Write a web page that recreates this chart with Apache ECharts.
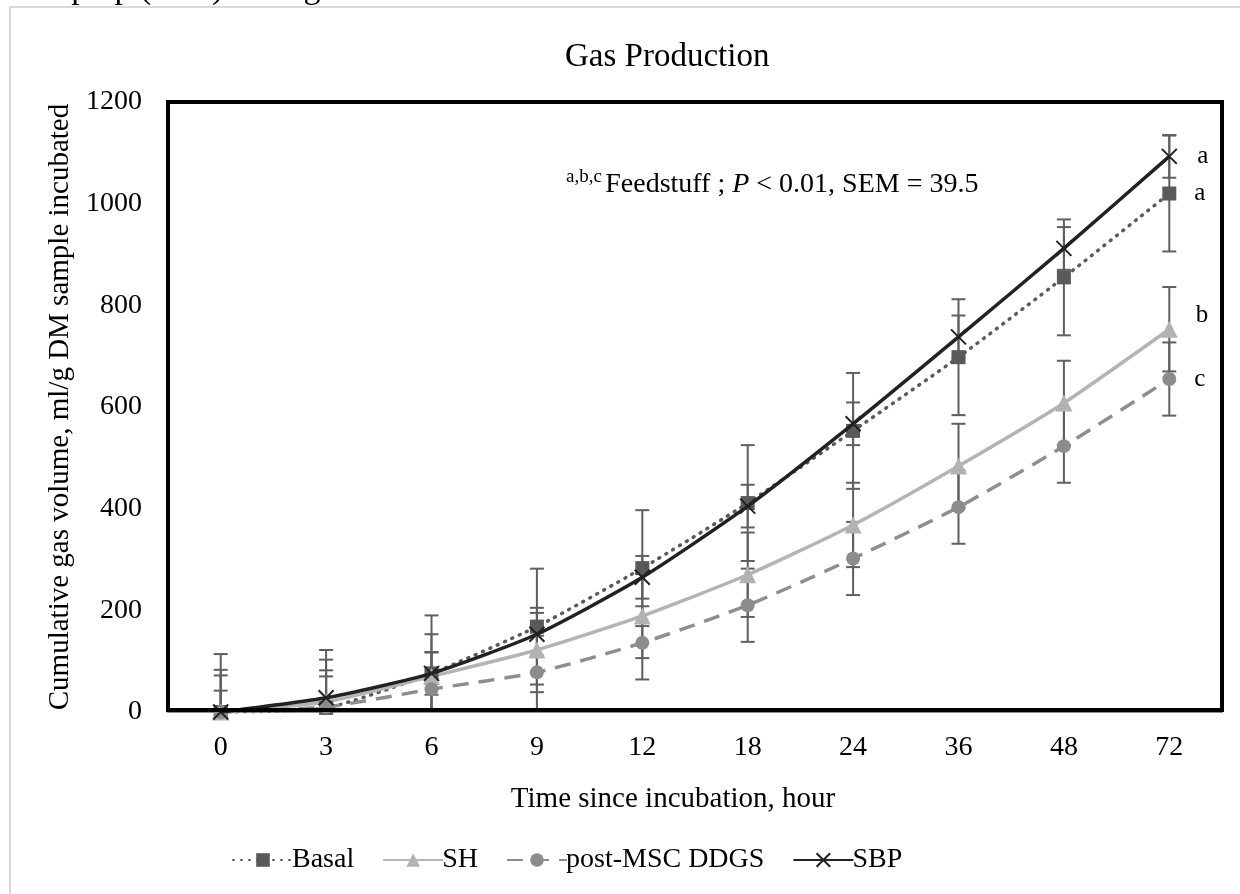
<!DOCTYPE html>
<html>
<head>
<meta charset="utf-8">
<title>Gas Production</title>
<script src="https://cdn.jsdelivr.net/npm/echarts@6/dist/echarts.min.js"></script>
<style>
  html, body { margin: 0; padding: 0; background: #fff; }
  #main { width: 1240px; height: 894px; }
</style>
</head>
<body>
<div id="main"></div>
<script>
// hours after incubation
var categories = ['0', '3', '6', '9', '12', '18', '24', '36', '48', '72'];

// cumulative gas, ml/g DM
var basal = [0, 8, 76, 168, 283, 411, 553, 698, 855, 1020];
var sh = [0, 20, 70, 122, 189, 270, 368, 484, 608, 753];
var ddgs = [0, 10, 45, 78, 136, 210, 302, 403, 523, 655];
var sbp = [0, 28, 76, 153, 265, 405, 567, 738, 912, 1093];

// error bar half length
var basalErr = [114, 114, 114, 114, 114, 114, 114, 114, 114, 114];
var shErr = [83, 83, 83, 83, 83, 83, 83, 83, 83, 83];
var ddgsErr = [72, 72, 72, 72, 72, 72, 72, 72, 72, 72];
var sbpErr = [42, 42, 42, 42, 42, 42, 42, 42, 42, 42];

// letters at the 72 h point
var letters = { Basal: 'a', SH: 'b', 'post-MSC DDGS': 'c', SBP: 'a' };

var yTicks = [0, 200, 400, 600, 800, 1000, 1200];

var FONT = '"Liberation Serif", "Times New Roman", serif';

function withLetter(name, values, offset) {
    return values.map(function (v, i) {
        if (i !== values.length - 1) return v;
        return {
            value: v,
            label: {
                show: true,
                position: 'right',
                distance: 18,
                offset: offset || [0, 0],
                formatter: letters[name],
                fontFamily: FONT,
                fontSize: 25,
                color: '#000'
            }
        };
    });
}

function errorBars(name, values, errs) {
    return {
        type: 'custom',
        name: name + ' err',
        silent: true,
        z: 1,
        encode: { x: 0, y: 1 },
        renderItem: function (params, api) {
            var i = api.value(0);
            var v = api.value(1);
            var e = api.value(2);
            var top = api.coord([i, v + e]);
            var low = v - e;
            var bot = api.coord([i, Math.max(low, 0)]);
            var st = { stroke: '#5f5f5f', lineWidth: 2 };
            var kids = [
                { type: 'line', shape: { x1: top[0], y1: top[1], x2: bot[0], y2: bot[1] }, style: st },
                { type: 'line', shape: { x1: top[0] - 7, y1: top[1], x2: top[0] + 7, y2: top[1] }, style: st }
            ];
            if (low >= 0) {
                kids.push({ type: 'line', shape: { x1: bot[0] - 7, y1: bot[1], x2: bot[0] + 7, y2: bot[1] }, style: st });
            }
            return { type: 'group', children: kids };
        },
        data: values.map(function (v, i) { return [i, v, errs[i]]; })
    };
}

var myChart = echarts.init(document.getElementById('main'));

var option = {
    backgroundColor: '#fff',
    animation: false,
    textStyle: { fontFamily: FONT },
    title: {
        text: 'Gas Production',
        left: 560,
        top: 36,
        textStyle: { fontFamily: FONT, fontSize: 33, fontWeight: 'normal', color: '#000' }
    },
    legend: {
        data: ['Basal', 'SH', 'post-MSC DDGS', 'SBP'],
        left: 227,
        top: 841,
        itemWidth: 60,
        itemHeight: 17,
        itemGap: 28,
        textStyle: { fontFamily: FONT, fontSize: 28, color: '#000', padding: [0, 0, 0, -6] }
    },
    grid: { left: 168, right: 18, top: 102, bottom: 182, containLabel: false },
    xAxis: {
        type: 'category',
        data: categories,
        boundaryGap: true,
        name: 'Time since incubation, hour',
        nameLocation: 'middle',
        nameGap: 73,
        nameTextStyle: { fontFamily: FONT, fontSize: 29, color: '#000', padding: [0, 44, 0, 0] },
        axisLine: { show: true, lineStyle: { color: '#8a8a8a', width: 2 } },
        axisTick: { show: false },
        axisLabel: { fontFamily: FONT, fontSize: 28, color: '#000', margin: 22 },
        splitLine: { show: false }
    },
    yAxis: {
        type: 'value',
        min: yTicks[0],
        max: yTicks[yTicks.length - 1],
        interval: 200,
        name: 'Cumulative gas volume, ml/g DM sample incubated',
        nameLocation: 'middle',
        nameGap: 90,
        nameTextStyle: { fontFamily: FONT, fontSize: 29, color: '#000' },
        axisLine: { show: false },
        axisTick: { show: false },
        axisLabel: {
            fontFamily: FONT, fontSize: 28, color: '#000', margin: 26,
            formatter: function (v) { return String(v); }
        },
        splitLine: { show: false }
    },
    graphic: [
        {
            type: 'rect',
            silent: true,
            z: -1,
            shape: { x: 10, y: 7, width: 1260, height: 920 },
            style: { fill: 'none', stroke: '#d9d9d9', lineWidth: 2 }
        },
        {
            type: 'text',
            silent: true,
            x: 6,
            y: 6,
            style: {
                text: 'beet pulp (SBP) during a 72-h in vitro fermentation.',
                fontFamily: FONT,
                fontSize: 34,
                fill: '#000',
                verticalAlign: 'bottom'
            }
        },
        {
            type: 'rect',
            silent: true,
            z: 50,
            shape: { x: 168, y: 102, width: 1054, height: 608 },
            style: { fill: 'none', stroke: '#000', lineWidth: 4 }
        },
        {
            type: 'text',
            silent: true,
            z: 60,
            x: 566,
            y: 168,
            style: {
                text: '{sup|a,b,c} {n|Feedstuff ; }{i|P}{n| < 0.01, SEM = 39.5}',
                rich: {
                    sup: { fontFamily: FONT, fontSize: 19, fill: '#000', verticalAlign: 'top', padding: [0, 0, 14, 0] },
                    n: { fontFamily: FONT, fontSize: 28, fill: '#000' },
                    i: { fontFamily: FONT, fontSize: 28, fontStyle: 'italic', fill: '#000' }
                }
            }
        }
    ],
    series: [
        errorBars('Basal', basal, basalErr),
        errorBars('SH', sh, shErr),
        errorBars('post-MSC DDGS', ddgs, ddgsErr),
        errorBars('SBP', sbp, sbpErr),
        {
            name: 'Basal',
            type: 'line',
            z: 3,
            smooth: 0.2,
            symbol: 'rect',
            symbolSize: 14,
            itemStyle: { color: '#595959' },
            lineStyle: { color: '#5a5a5a', width: 3.5, type: [1, 7], cap: 'round' },
            data: withLetter('Basal', basal)
        },
        {
            name: 'SH',
            type: 'line',
            z: 3,
            smooth: 0.2,
            symbol: 'triangle',
            symbolSize: 17,
            itemStyle: { color: '#b2b2b2' },
            lineStyle: { color: '#b4b4b4', width: 3.5 },
            data: withLetter('SH', sh, [0, -14])
        },
        {
            name: 'post-MSC DDGS',
            type: 'line',
            z: 3,
            smooth: 0.2,
            symbol: 'circle',
            symbolSize: 14,
            itemStyle: { color: '#8c8c8c' },
            lineStyle: { color: '#8e8e8e', width: 3.5, type: [16, 10] },
            data: withLetter('post-MSC DDGS', ddgs)
        },
        {
            name: 'SBP',
            type: 'line',
            z: 4,
            smooth: 0.2,
            symbol: 'path://M0,0 L10,10 M10,0 L0,10',
            symbolSize: 15,
            itemStyle: { color: 'none', borderColor: '#222', borderWidth: 2 },
            lineStyle: { color: '#222', width: 3.5 },
            data: withLetter('SBP', sbp)
        }
    ]
};

myChart.setOption(option);
</script>
</body>
</html>
